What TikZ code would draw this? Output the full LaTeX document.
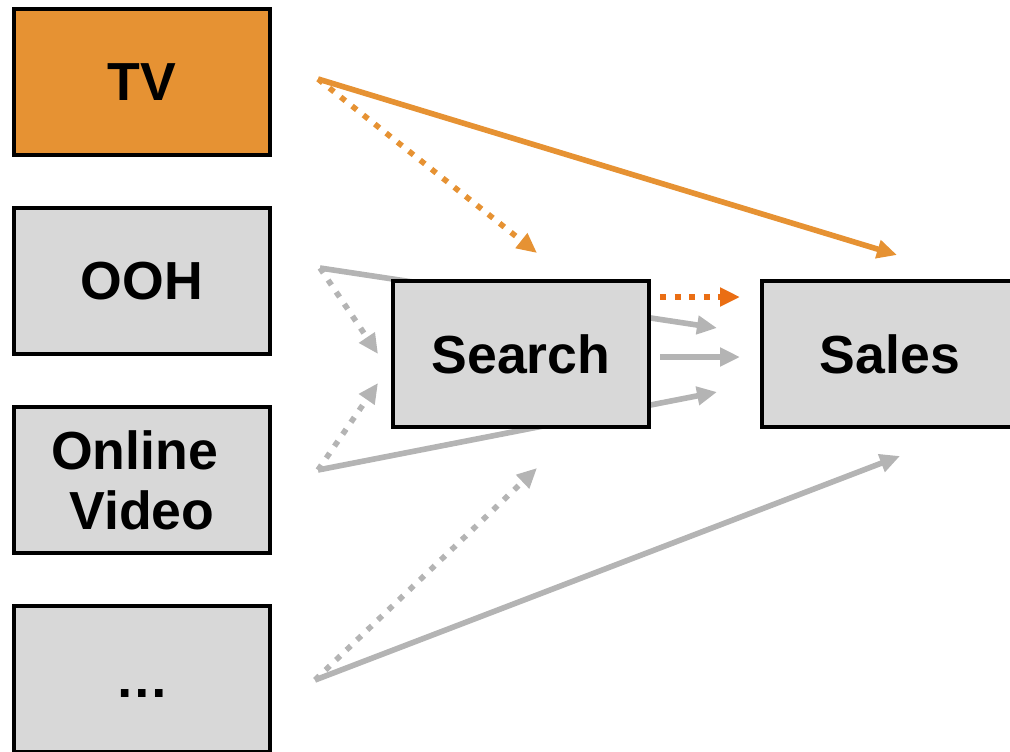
\documentclass[tikz,border=0pt]{standalone}
\usepackage{fontspec}
\setmainfont{Liberation Sans}
\usetikzlibrary{arrows.meta,backgrounds}

\definecolor{tvorange}{HTML}{E69233}
\definecolor{hotorange}{HTML}{EA6E14}
\definecolor{boxgray}{HTML}{D8D8D8}
\definecolor{linkgray}{HTML}{B4B4B4}

\begin{document}
\begin{tikzpicture}[x=0.02cm,y=-0.02cm,
    channel/.style={rectangle,draw=black,line width=2.2pt,fill=boxgray,
      minimum width=5.12cm,minimum height=2.92cm,align=center,
      font=\fontsize{30.5}{34}\selectfont\bfseries},
    link/.style={line width=3.2pt,-{Triangle[length=0.4cm,width=0.36cm]}},
    dots/.style={link,dash pattern=on 0.12cm off 0.17cm}]
   \useasboundingbox (0,0) rectangle (1010,751);
   \clip (0,0) rectangle (1010,751);
   % media channels on the left, search and sales on the right
   \begin{scope}[every node/.style={channel}]
    \node[fill=tvorange] (tv) at (142,82) {TV};
    \node (ooh) at (142,281) {OOH};
    \node (vid) at (142,480) {Online\hspace*{0.28em}\\Video};
    \node (more) at (142,679) {\vphantom{TV}…};
    \node (search) at (521,354) {Search};
    \node (sales) at (890,354) {Sales};
   \end{scope}
   % where the arrows start and end
   \coordinate (tvo) at (318,79);
   \coordinate (ooho) at (320,268);
   \coordinate (vido) at (318,470);
   \coordinate (moreo) at (315,680);
   \coordinate (s1) at (537,253);
   \coordinate (s2) at (378,354);
   \coordinate (s3) at (378,383);
   \coordinate (s4) at (537,468);
   \coordinate (f1) at (660,297);
   \coordinate (f2) at (660,357);
   \coordinate (t1) at (740,297);
   \coordinate (t2) at (717,328);
   \coordinate (t3) at (740,357);
   \coordinate (t4) at (717,392);
   \coordinate (a1) at (897,255);
   \coordinate (a2) at (900,456);
   \begin{scope}[on background layer]
    \draw[link,tvorange] (tvo) -- (a1);
    \draw[dots,tvorange] (tvo) -- (s1);
    \draw[link,linkgray] (ooho) -- (t2);
    \draw[dots,linkgray] (ooho) -- (s2);
    \draw[link,linkgray] (vido) -- (t4);
    \draw[dots,linkgray] (vido) -- (s3);
    \draw[link,linkgray] (moreo) -- (a2);
    \draw[dots,linkgray] (moreo) -- (s4);
   \end{scope}
   \draw[dots,hotorange] (f1) -- (t1);
   \draw[link,linkgray] (f2) -- (t3);
\end{tikzpicture}
\end{document}
